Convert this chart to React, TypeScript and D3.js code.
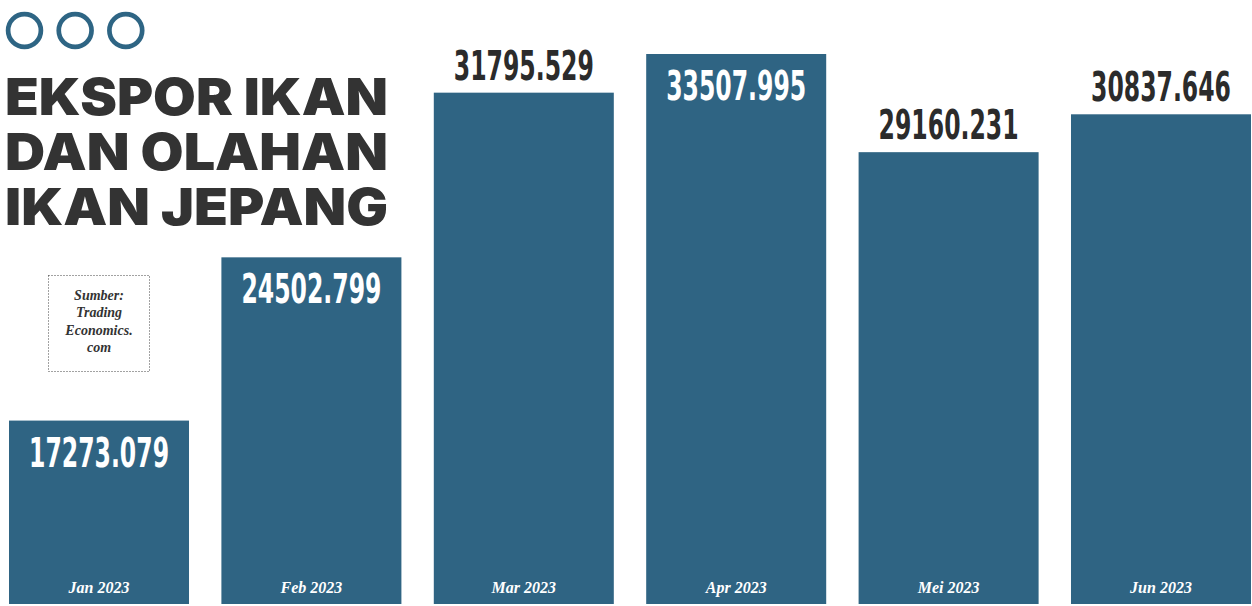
import React from "react";
import * as d3 from "d3";

const months = ["Jan 2023", "Feb 2023", "Mar 2023", "Apr 2023", "Mei 2023", "Jun 2023"];
const values = [17273.079, 24502.799, 31795.529, 33507.995, 29160.231, 30837.646];
const labelInside = [true, true, false, true, false, false];
const titleLines = ["EKSPOR IKAN", "DAN OLAHAN", "IKAN JEPANG"];
const sourceLines = ["Sumber:", "Trading", "Economics.", "com"];

const W = 1252;
const H = 606;
const BAR = "#2f6483";
const DARK = "#333333";

export default function App() {
  const x = d3.scaleBand<string>().domain(months).range([9, 1251]).paddingInner(0.1525).paddingOuter(0);
  const y = d3.scaleLinear().domain([9150, 33508]).range([604, 54]);
  const circles = d3.range(3);
  const cx = d3.scaleLinear().domain([0, 2]).range([24.5, 125.8]);

  return (
    <svg width={W} height={H} style={{ position: "absolute", left: 0, top: 0, background: "#fff" }}>
      {circles.map((i) => (
        <circle key={i} cx={cx(i)} cy={30.5} r={16.4} fill="none" stroke="#2e6584" strokeWidth={4.7} />
      ))}
      {titleLines.map((t, i) => (
        <text
          key={t}
          x={5}
          y={115 + i * 55}
          fontFamily="Inter, Lato, sans-serif"
          fontWeight={900}
          fontSize={51}
          fill={DARK}
          textLength={383}
          lengthAdjust="spacingAndGlyphs"
        >
          {t}
        </text>
      ))}
      <rect x={48.5} y={275.5} width={101} height={96} fill="none" stroke="#444" strokeWidth={1} strokeDasharray="1,2" />
      {sourceLines.map((t, i) => (
        <text
          key={t}
          x={99}
          y={300 + i * 17.3}
          textAnchor="middle"
          fontFamily="'Liberation Serif', serif"
          fontStyle="italic"
          fontWeight="bold"
          fontSize={14}
          fill={DARK}
        >
          {t}
        </text>
      ))}
      {months.map((m, i) => {
        const bx = x(m) as number;
        const top = y(values[i]);
        const inside = labelInside[i];
        const cxm = bx + x.bandwidth() / 2;
        const ly = inside ? top + 46 : top - 13;
        return (
          <g key={m}>
            <rect x={bx} y={top} width={x.bandwidth()} height={y.range()[0] - top} fill={BAR} />
            <g transform={`translate(${cxm},${ly}) scale(1,1.56)`}>
              <text
                x={0}
                y={0}
                textAnchor="middle"
                fontFamily="'DejaVu Sans Condensed', 'DejaVu Sans', sans-serif"
                fontWeight="bold"
                fontSize={26}
                fill={inside ? "#ffffff" : "#2b2b2b"}
                textLength={140}
                lengthAdjust="spacingAndGlyphs"
              >
                {values[i].toFixed(3)}
              </text>
            </g>
            <text
              x={cxm}
              y={593}
              textAnchor="middle"
              fontFamily="'Liberation Serif', serif"
              fontStyle="italic"
              fontWeight="bold"
              fontSize={16}
              fill="#ffffff"
            >
              {m}
            </text>
          </g>
        );
      })}
    </svg>
  );
}
